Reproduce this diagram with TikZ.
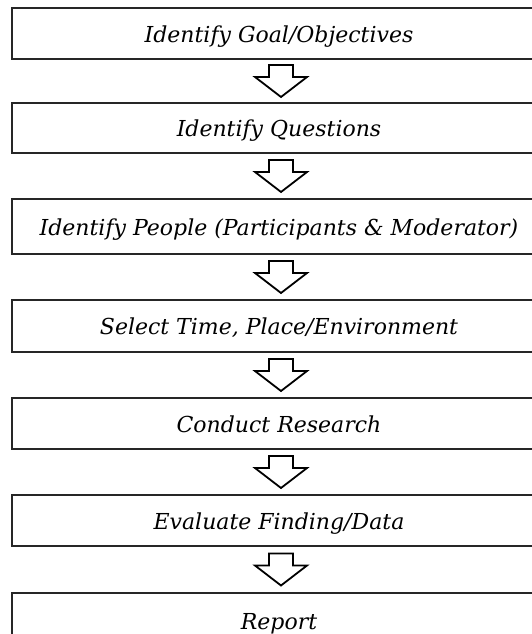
\documentclass[tikz,border=0pt]{standalone}
\usepackage{fontspec}
\setmainfont{DejaVu Serif}
\usetikzlibrary{calc}
\tikzset{
  stepbox/.style={draw=black!85, line width=1.3pt, minimum width=534pt, inner sep=0pt,
    text height=19pt, text depth=2pt,
    font=\fontsize{22}{25}\selectfont\itshape, anchor=center},
  pics/downarrow/.style={code={
    \draw[line width=1.8pt, line join=miter, fill=white]
      (-12,16) -- (12,16) -- (12,4) -- (26,4) -- (0,-16) -- (-26,4) -- (-12,4) -- cycle;}}
}
\begin{document}
\begin{tikzpicture}[x=1pt,y=1pt]
\useasboundingbox (0,0) rectangle (532,-634);
\clip (0,0) rectangle (532,-634);
\node[stepbox, minimum height=51pt] (b1) at (279,-33.5) {Identify Goal/Objectives};
\node[stepbox, minimum height=50pt] (b2) at (279,-128) {Identify Questions};
\node[stepbox, minimum height=55pt] (b3) at (279,-226.5) {Identify People (Participants \& Moderator)};
\node[stepbox, minimum height=52pt] (b4) at (279,-326) {Select Time, Place/Environment};
\node[stepbox, minimum height=51pt] (b5) at (279,-423.5) {Conduct Research};
\node[stepbox, minimum height=51pt] (b6) at (279,-520.5) {Evaluate Finding/Data};
\node[stepbox, minimum height=56pt] (b7) at (279,-621) {Report};
\foreach \a/\b in {b1/b2,b2/b3,b3/b4,b4/b5,b5/b6,b6/b7}
  \pic[xshift=2pt] at ($(\a.south)!0.5!(\b.north)$) {downarrow};
\end{tikzpicture}
\end{document}
